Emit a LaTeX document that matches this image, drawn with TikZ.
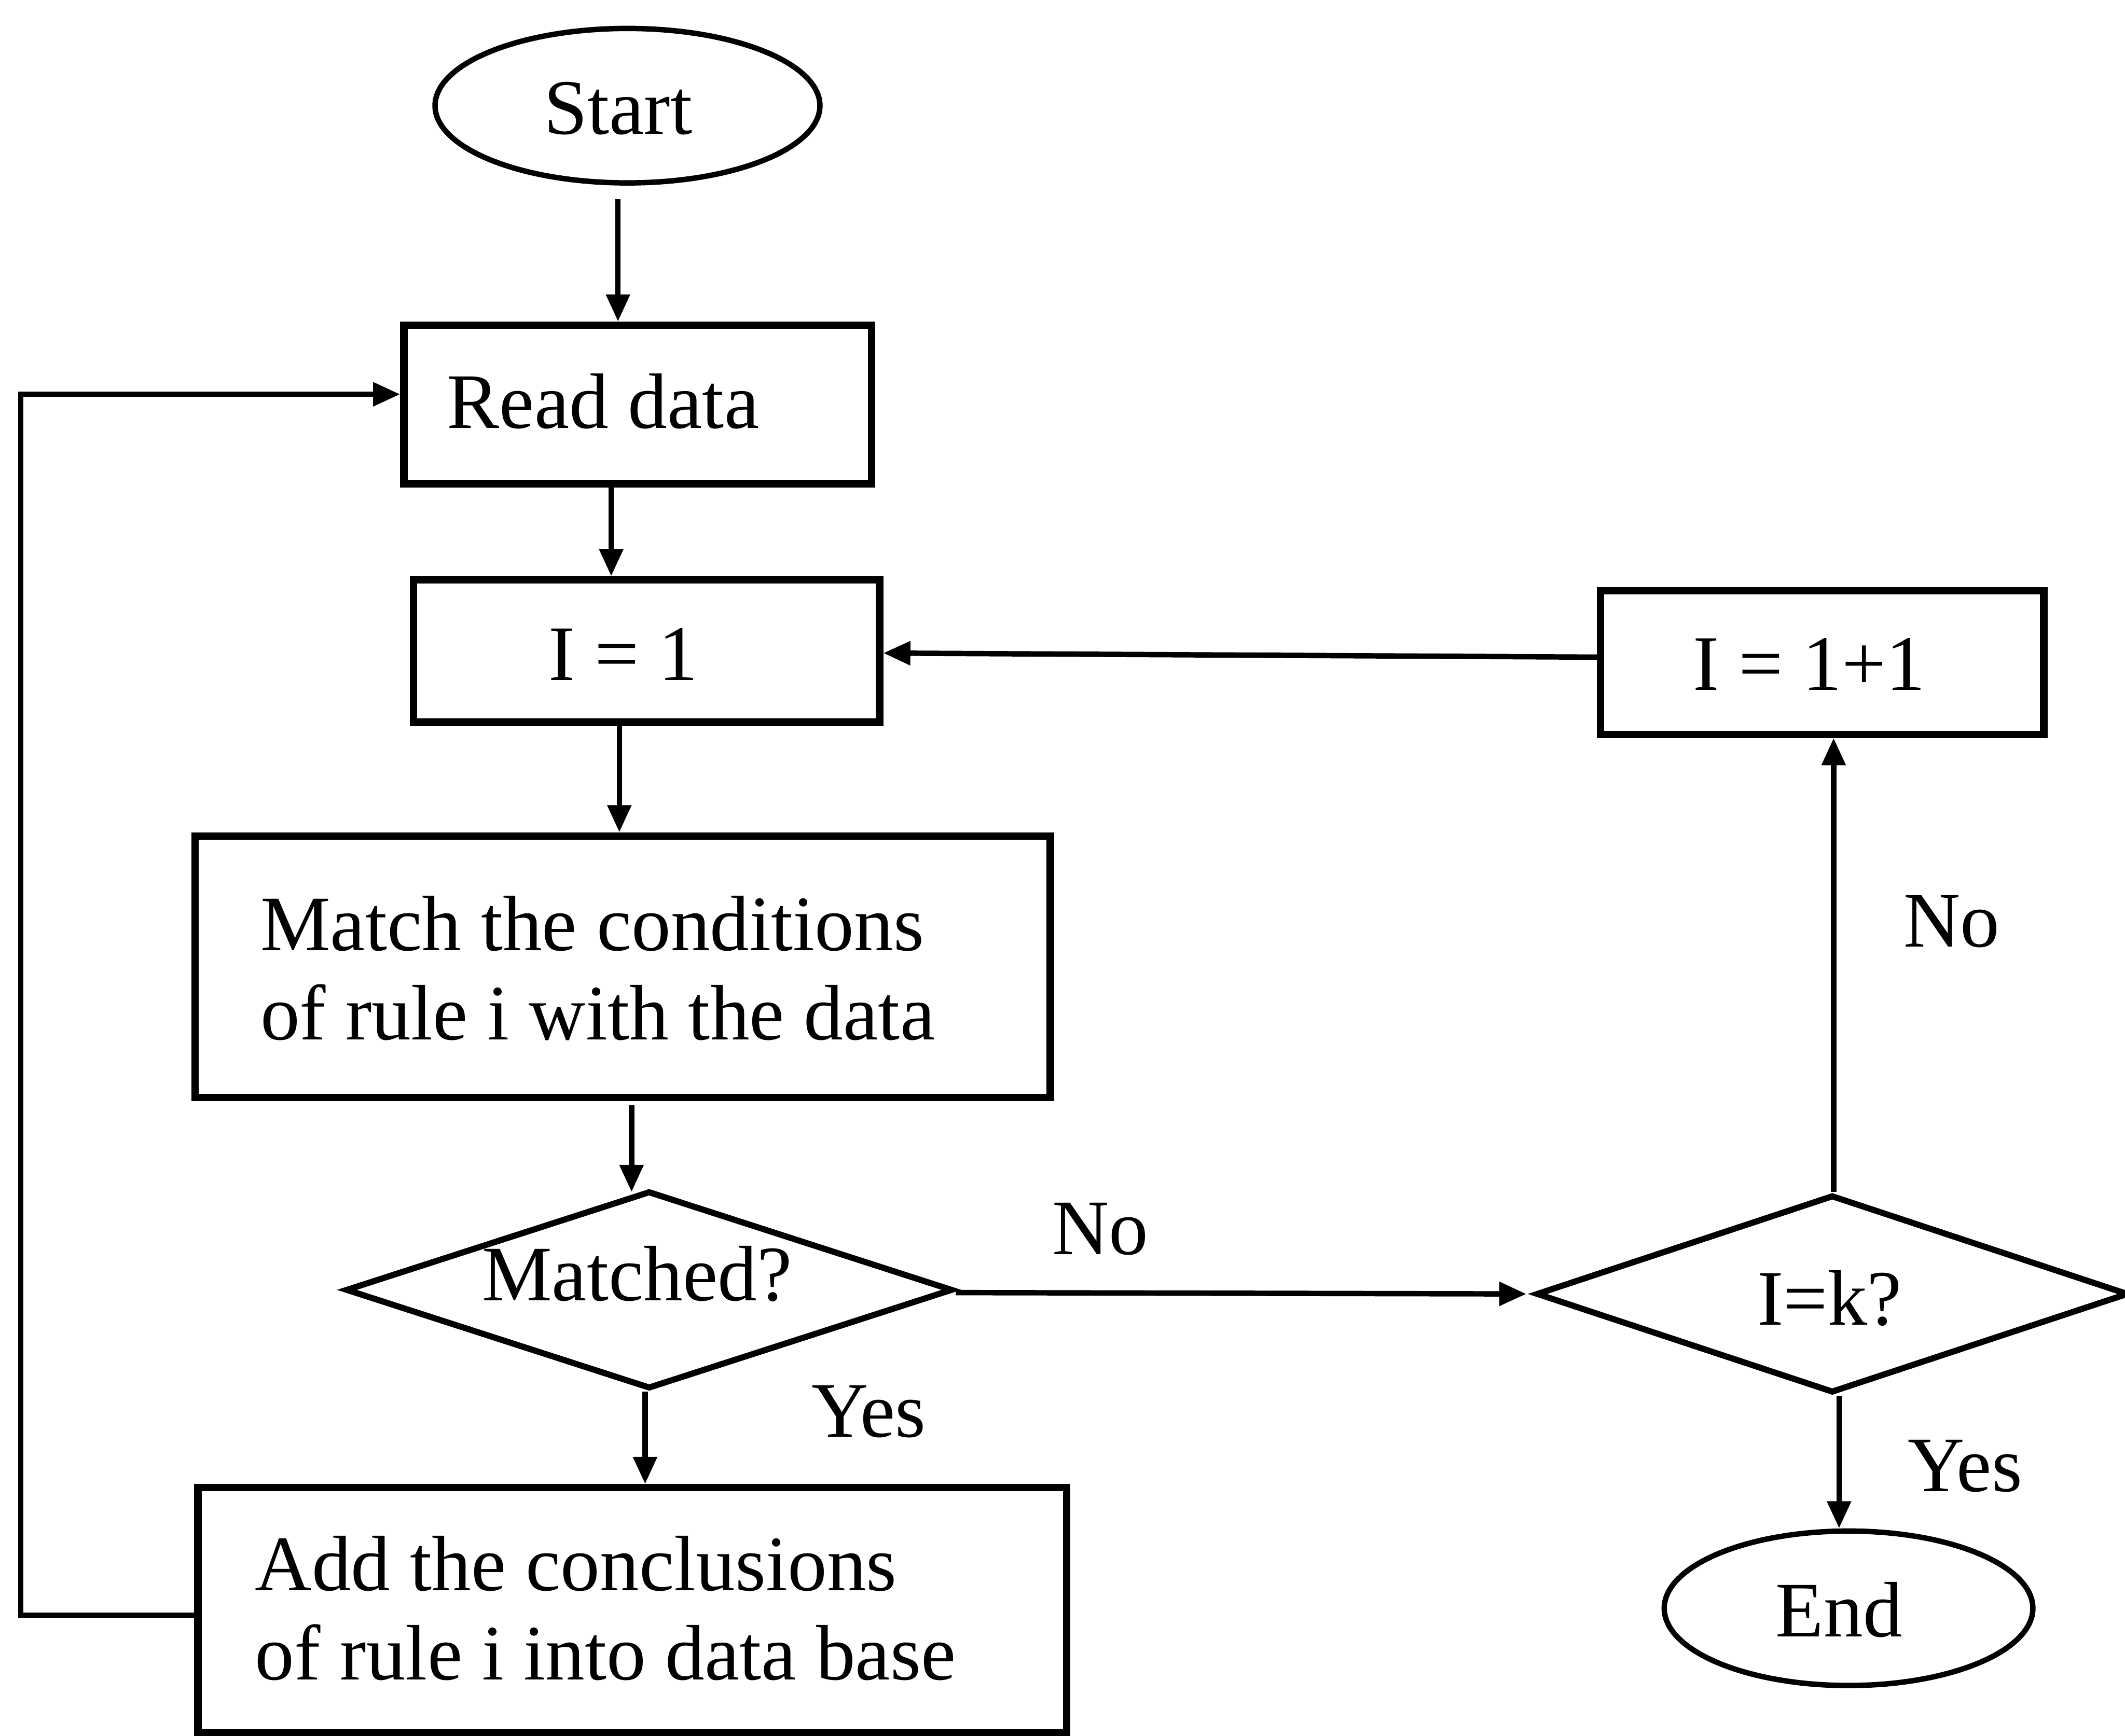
\documentclass[tikz,border=0pt]{standalone}
\usepackage{fontspec}
\setmainfont{Liberation Serif}
\usetikzlibrary{shapes.geometric,arrows.meta}
\begin{document}
\begin{tikzpicture}[x=1pt,y=-1pt,
  every node/.style={font=\fontsize{58}{66}\selectfont, inner sep=0pt},
  procbox/.style={draw, line width=5.5pt, rectangle},
  terminal/.style={draw, line width=4pt, ellipse},
  decision/.style={draw, line width=4.5pt, diamond},
  flow/.style={line width=4pt, -{Triangle[length=20pt,width=17pt]}}]

\useasboundingbox (0,0) rectangle (1568,1281);

% terminals
\node[terminal, minimum width=284pt, minimum height=114pt] (start) at (463,78) {};
\node (startT) at (456,80) {Start};
\node[terminal, minimum width=272pt, minimum height=114pt] (end) at (1364,1187) {};
\node (endT) at (1357,1188) {End};

% process boxes
\node[procbox, minimum width=345pt, minimum height=117pt] (rd) at (470.5,298.5) {};
\node (rdT) at (445,296) {Read data};
\node[procbox, minimum width=344pt, minimum height=105pt] (i1) at (477,480.5) {};
\node (i1T) at (460,483) {I = 1};
\node[procbox, minimum width=631pt, minimum height=193pt] (match) at (459.5,713.5) {};
\node[anchor=west, align=left] (matchT) at (192,714.5) {Match the conditions\\of rule i with the data};
\node[procbox, minimum width=641pt, minimum height=181pt] (add) at (466.5,1188.5) {};
\node[anchor=west, align=left] (addT) at (188,1187) {Add the conclusions\\of rule i into data base};
\node[procbox, minimum width=327pt, minimum height=106pt] (i11) at (1344.5,489) {};
\node (i11T) at (1335,490) {I = 1+1};

% decisions
\node[decision, minimum width=448pt, minimum height=146pt] (m) at (479,952) {};
\node (mT) at (470,940) {Matched?};
\node[decision, minimum width=437pt, minimum height=146pt] (k) at (1352,955) {};
\node (kT) at (1350,958) {I=k?};

% connectors
\draw[flow] ([shift={(-7pt,-10pt)}]start.south) -- ([xshift=-14.5pt]rd.north);
\draw[flow] ([xshift=-19.5pt]rd.south) -- ([xshift=-26pt]i1.north);
\draw[flow] ([xshift=-20pt]i1.south) -- ([xshift=-2.5pt]match.north);
\draw[flow] ([shift={(6.5pt,-3pt)}]match.south) -- ([shift={(-13pt,-3pt)}]m.north);
\draw[flow] ([xshift=-3pt]m.south) -- ([xshift=9.5pt]add.north);
\draw[flow] ([yshift=-3.5pt]add.west) -- ++(-128,0) |- ([yshift=7.5pt]rd.west);
\draw[flow] ([yshift=-2pt]m.east) -- ([xshift=-5pt]k.west);
\draw[flow] ([xshift=1pt]k.north) -- ([xshift=8.5pt]i11.south);
\draw[flow] ([yshift=4pt]i11.west) -- ([yshift=-1.5pt]i1.east);
\draw[flow] ([xshift=5pt]k.south) -- ([xshift=-7pt]end.north);

% branch labels
\node (yes1) at (641,1042) {Yes};
\node (no1) at (812,907) {No};
\node (no2) at (1440,680) {No};
\node (yes2) at (1450,1082) {Yes};
\end{tikzpicture}
\end{document}
